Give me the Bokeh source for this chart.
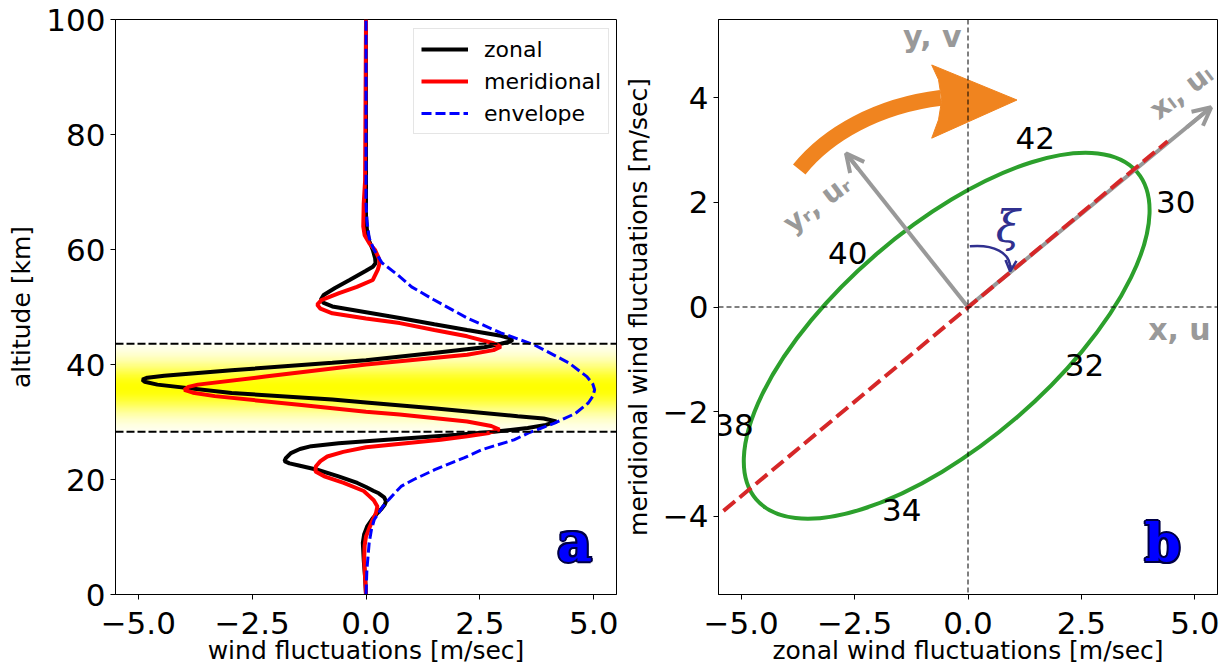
import numpy as np
from bokeh.plotting import figure
from bokeh.layouts import row
from bokeh.models import Span, Arrow, OpenHead, Label, LabelSet, ColumnDataSource, FixedTicker
from bokeh.core.properties import value
from bokeh.embed import file_html
from bokeh.resources import INLINE

FONT = "DejaVu Sans"
GRAY = "#999999"
ORANGE = "#f0841f"
NAVY = "#30308f"

# ---- panel a: wind profiles (altitude km, wind m/s) ----
zonal_alt = [0, 3, 6, 9.0, 10.5, 11.9, 13.3, 14.8, 15.6, 16.2, 16.9, 17.6, 18.0, 18.7, 19.4,
             20.6, 21.7, 22.4, 22.8, 23.2, 23.7, 24.6, 25.3, 25.8, 26.3, 26.65, 27.8, 28.3,
             28.96, 29.5, 30.1, 30.6, 31.0, 32.4, 33.4, 33.9, 35.05, 36.5, 37.0, 37.36, 37.7,
             38.05, 39.0, 40.3, 40.75, 42.0, 43.0, 43.6, 44.0, 44.3, 44.6, 45.0, 46.0, 47.0,
             48.1, 49.1, 50.1, 50.7, 51.3, 52.1, 53.3, 54.7, 56.3, 57.0, 57.6, 58.5, 59.9,
             61.5, 63.5, 66, 100]
zonal_u = [0, -0.02, -0.05, -0.07, -0.04, 0.03, 0.15, 0.33, 0.41, 0.44, 0.40, 0.28, 0.17, 0.0,
           -0.19, -0.62, -1.07, -1.45, -1.68, -1.79, -1.76, -1.65, -1.45, -1.2, -0.6, 0.0, 2.0,
           2.81, 3.55, 3.95, 4.18, 3.9, 3.33, 1.48, 0.0, -0.74, -2.95, -4.58, -4.86, -4.91, -4.8,
           -4.43, -2.95, -0.74, 0.0, 1.48, 2.6, 2.96, 3.17, 3.22, 3.14, 2.96, 2.22, 1.5, 0.74,
           0.0, -0.74, -0.93, -0.99, -0.93, -0.68, -0.36, 0.0, 0.15, 0.21, 0.2, 0.15, 0.07,
           0.02, 0.0, 0.0]

merid_alt = [0, 3, 6.1, 8.5, 10.1, 11.5, 13.0, 14.2, 15.3, 16.4, 17.2, 18.0, 19.4, 20.5, 21.4,
             22.3, 23.2, 24.0, 24.8, 25.6, 26.9, 27.5, 28.1, 28.7, 29.3, 30.1, 31.3, 31.8, 33.0,
             34.5, 35.1, 35.6, 36.1, 36.5, 37.9, 40.0, 41.7, 42.5, 43.1, 43.7, 44.9, 46.0, 47.2,
             48.0, 48.9, 49.7, 50.4, 51.2, 52.4, 53.5, 54.7, 56.5, 57.6, 58.5, 59.9, 61.0, 62.5,
             64, 68, 72, 100]
merid_v = [0, -0.02, -0.04, -0.03, 0.0, 0.07, 0.15, 0.22, 0.25, 0.17, 0.06, -0.05, -0.49, -0.9,
           -1.11, -1.1, -1.0, -0.85, -0.5, 0.0, 1.64, 2.22, 2.7, 2.93, 2.75, 2.22, 0.74, 0.0,
           -1.47, -3.32, -3.8, -3.99, -3.9, -3.69, -2.21, 0.0, 2.22, 2.8, 2.96, 2.8, 2.22, 1.5,
           0.74, 0.0, -0.74, -1.0, -1.07, -0.98, -0.59, -0.2, 0.15, 0.26, 0.30, 0.28, 0.2, 0.08,
           -0.03, -0.06, -0.05, -0.02, 0.0]

env_alt = [0, 4.4, 9.0, 11.3, 13.0, 15.3, 16.5, 18.8, 20.0, 21.7, 23.75, 25.2, 26.9, 28.1, 29.8,
           31.5, 33.3, 34.5, 35.6, 36.6, 37.9, 40.3, 43.4, 45.5, 48.1, 51.3, 53.5, 55.3, 57.7,
           59.9, 62, 65, 68, 100]
env_amp = [0, 0.02, 0.07, 0.12, 0.18, 0.37, 0.5, 0.77, 1.05, 1.51, 2.15, 2.55, 3.25, 3.57, 4.14,
           4.6, 4.88, 4.98, 5.02, 4.98, 4.85, 4.45, 3.7, 2.96, 2.22, 1.48, 1.0, 0.74, 0.35, 0.18,
           0.07, 0.02, 0.0, 0.0]

layer_bottom, layer_top, layer_peak = 28.3, 43.6, 35.9

wind_ticks = [-5, -2.5, 0, 2.5, 5]
wind_tick_labels = ["\u22125.0", "\u22122.5", "0.0", "2.5", "5.0"]
alt_ticks = [0, 20, 40, 60, 80, 100]
alt_tick_labels = ["0", "20", "40", "60", "80", "100"]
v_ticks = [-4, -2, 0, 2, 4]
v_tick_labels = ["\u22124", "\u22122", "0", "2", "4"]

# ---- panel b: hodograph ----
ell_x, ell_y = -0.47, -0.55
ell_w, ell_h, ell_angle = 11.07, 4.12, 40.7
major_x = [-5.39, 4.40]
major_y = [-3.90, 3.17]
xl_tip = (5.36, 3.82)
yr_tip = (-2.69, 2.94)
alt_labels = ["42", "30", "40", "32", "38", "34"]
alt_label_x = [1.48, 4.58, -2.65, 2.57, -5.16, -1.46]
alt_label_y = [3.23, 2.01, 1.03, -1.1, -2.25, -3.88]
rot_x0, rot_y0, rot_cx0, rot_cy0 = -3.72, 2.63, -3.1, 3.3
rot_cx1, rot_cy1, rot_x1, rot_y1 = -2.0, 3.85, -0.6, 4.0
rot_head_x = [-0.8, 1.08, -0.8, -0.65, -0.58, -0.65]
rot_head_y = [4.63, 3.96, 3.23, 3.58, 3.96, 4.35]
xi_x0, xi_y0, xi_cx0, xi_cy0 = 0.04, 1.16, 0.55, 1.2
xi_cx1, xi_cy1, xi_x1, xi_y1 = 0.95, 1.05, 0.93, 0.72


def style(p, xt, xl, yt, yl):
    p.xgrid.visible = False
    p.ygrid.visible = False
    p.outline_line_color = "black"
    p.xaxis.ticker = FixedTicker(ticks=xt)
    p.xaxis.major_label_overrides = dict(zip(xt, xl))
    p.yaxis.ticker = FixedTicker(ticks=yt)
    p.yaxis.major_label_overrides = dict(zip(yt, yl))
    for ax in (p.xaxis[0], p.yaxis[0]):
        ax.axis_line_color = "black"
        ax.major_tick_line_color = "black"
        ax.major_tick_out = 5
        ax.major_tick_in = 0
        ax.minor_tick_line_color = None
        ax.major_label_text_font = FONT
        ax.major_label_text_font_size = "31px"
        ax.major_label_text_color = "black"
        ax.axis_label_text_font = FONT
        ax.axis_label_text_font_size = "25px"
        ax.axis_label_text_font_style = "normal"
        ax.axis_label_text_color = "black"
    p.xaxis.major_label_standoff = 12
    p.xaxis.axis_label_standoff = -1
    p.yaxis.major_label_standoff = 5
    p.yaxis.axis_label_standoff = 7


def outlined_letter(p, x, y, txt, size):
    for dx, dy in [(-2, 0), (2, 0), (0, -2), (0, 2), (-1.5, -1.5), (1.5, 1.5), (-1.5, 1.5), (1.5, -1.5)]:
        p.add_layout(Label(x=x, y=y, x_offset=dx, y_offset=dy, text=txt, text_align="center",
                           text_baseline="middle", text_font="DejaVu Serif",
                           text_font_style="bold", text_font_size=size, text_color="#000044"))
    p.add_layout(Label(x=x, y=y, text=txt, text_align="center", text_baseline="middle",
                       text_font="DejaVu Serif", text_font_style="bold", text_font_size=size,
                       text_color="#0000ff"))


# ================= panel a =================
pa = figure(width=620, height=667, x_range=(-5.5, 5.5), y_range=(0, 100),
            min_border_left=115, min_border_right=4, min_border_top=19, min_border_bottom=72,
            toolbar_location=None, output_backend="svg")
style(pa, wind_ticks, wind_tick_labels, alt_ticks, alt_tick_labels)
pa.xaxis.axis_label = "wind fluctuations [m/sec]"
pa.yaxis.axis_label = "altitude [km]"

# yellow layer shading
n = 160
zz = np.linspace(layer_bottom, layer_top, n)
img = np.zeros((n, 2), dtype=np.uint32)
view = img.view(dtype=np.uint8).reshape((n, 2, 4))
view[..., 0] = 255
view[..., 1] = 255
view[..., 2] = 0
view[..., 3] = (255 * np.exp(-((zz - layer_peak) / 4.5) ** 2))[:, None].astype(np.uint8)
pa.image_rgba(image=[img], x=-5.5, y=layer_bottom, dw=11, dh=layer_top - layer_bottom)

for lev in (layer_bottom, layer_top):
    pa.add_layout(Span(location=lev, dimension="width", line_color="black",
                       line_width=2, line_dash="8 3"))

pa.line(zonal_u, zonal_alt, line_color="black", line_width=4, legend_label="zonal")
pa.line(merid_v, merid_alt, line_color="red", line_width=4, legend_label="meridional")
pa.line(env_amp, env_alt, line_color="blue", line_width=3, line_dash="10 4",
        legend_label="envelope")

lg = pa.legend[0]
lg.location = (298, 460)
lg.margin = 0
lg.padding = 7
lg.spacing = 6
lg.glyph_width = 47
lg.glyph_height = 26
lg.label_height = 26
lg.label_standoff = 16
lg.label_text_font = FONT
lg.label_text_font_size = "22px"
lg.label_text_color = "black"
lg.border_line_color = "#cccccc"
lg.background_fill_alpha = 0.8

outlined_letter(pa, 4.58, 9.2, "a", "54px")

# ================= panel b =================
pb = figure(width=602, height=667, x_range=(-5.5, 5.5), y_range=(-5.5, 5.5),
            min_border_left=96, min_border_right=5, min_border_top=19, min_border_bottom=72,
            toolbar_location=None, output_backend="svg")
style(pb, wind_ticks, wind_tick_labels, v_ticks, v_tick_labels)
pb.xaxis.axis_label = "zonal wind fluctuations [m/sec]"
pb.yaxis.axis_label = "meridional wind fluctuations [m/sec]"

pb.bezier(x0=[rot_x0], y0=[rot_y0], cx0=[rot_cx0], cy0=[rot_cy0], cx1=[rot_cx1], cy1=[rot_cy1],
          x1=[rot_x1], y1=[rot_y1], line_color=ORANGE, line_width=16, line_cap="butt")
pb.patch(rot_head_x, rot_head_y, fill_color=ORANGE, line_color=ORANGE, line_width=1)

pb.ellipse(x=[ell_x], y=[ell_y], width=[ell_w], height=[ell_h], angle=ell_angle,
           angle_units="deg", fill_color=None, line_color="#2ca02c", line_width=4)

pb.segment(x0=[0, 0], y0=[0, 0], x1=[xl_tip[0], yr_tip[0]], y1=[xl_tip[1], yr_tip[1]],
           line_color=GRAY, line_width=4)
for tx, ty in (xl_tip, yr_tip):
    pb.add_layout(Arrow(end=OpenHead(size=18, line_color=GRAY, line_width=4),
                        x_start=0.9 * tx, y_start=0.9 * ty, x_end=tx, y_end=ty,
                        line_color=GRAY, line_width=4))

pb.line(major_x, major_y, line_color="#d62728", line_width=4, line_dash="15 6")

pb.add_layout(Span(location=0, dimension="height", line_color="black", line_width=1,
                   line_dash="5 3"))
pb.add_layout(Span(location=0, dimension="width", line_color="black", line_width=1,
                   line_dash="5 3"))

pb.bezier(x0=[xi_x0], y0=[xi_y0], cx0=[xi_cx0], cy0=[xi_cy0], cx1=[xi_cx1], cy1=[xi_cy1],
          x1=[xi_x1], y1=[xi_y1], line_color=NAVY, line_width=2.5)
pb.add_layout(Arrow(end=OpenHead(size=11, line_color=NAVY, line_width=2.5),
                    x_start=0.94, y_start=0.80, x_end=xi_x1, y_end=xi_y1 - 0.04,
                    line_color=NAVY, line_width=2.5))
pb.add_layout(Label(x=0.88, y=1.54, text="\u03be", text_align="center", text_baseline="middle",
                    text_font="DejaVu Serif", text_font_style="italic", text_font_size="44px",
                    text_color=NAVY))

src = ColumnDataSource(dict(x=alt_label_x, y=alt_label_y, t=alt_labels))
pb.add_layout(LabelSet(x="x", y="y", text="t", source=src, text_align="center",
                       text_baseline="middle", text_font=value(FONT), text_font_size="31px",
                       text_color="black"))

for txt, x, y, al, ang, fs in [("y, v", -0.14, 5.17, "right", 0, "30px"),
                               ("x, u", 5.35, -0.43, "right", 0, "30px"),
                               ("x\u2097, u\u2097", 4.70, 4.12, "center", 37, "28px"),
                               ("y\u1d63, u\u1d63", -3.33, 1.98, "center", 37, "28px")]:
    pb.add_layout(Label(x=x, y=y, text=txt, text_align=al, text_baseline="middle", angle=ang,
                        angle_units="deg", text_font=FONT, text_font_style="bold",
                        text_font_size=fs, text_color=GRAY))

outlined_letter(pb, 4.29, -4.51, "b", "52px")

layout = row(pa, pb)
open("out.html", "w").write(file_html(layout, INLINE))
